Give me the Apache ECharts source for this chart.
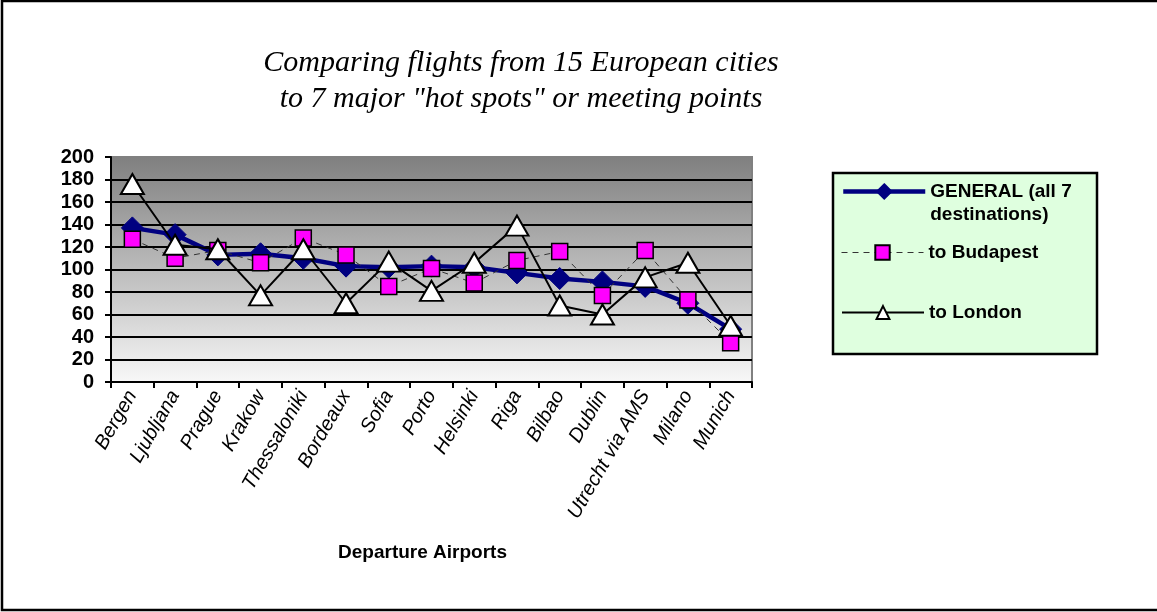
<!DOCTYPE html>
<html>
<head>
<meta charset="utf-8">
<script src="https://cdn.jsdelivr.net/npm/echarts@6/dist/echarts.min.js"></script>
<style>html,body{margin:0;padding:0;background:#fff;}#c{width:1157px;height:612px;}</style>
</head>
<body>
<div id="c"></div>
<script>
var categories = ['Bergen','Ljubljana','Prague','Krakow','Thessaloniki','Bordeaux','Sofia','Porto','Helsinki','Riga','Bilbao','Dublin','Utrecht via AMS','Milano','Munich'];
var generalValues = [137,131,113,114,110,103,102,103,102,97,92,89,85,70,47];
var budapestValues = [127,110,117,106,128,113,85,101,88,108,116,77,117,73,35];
var londonValues = [176,122,118,77,118,70,107,81,106,139,68,60,93,106,50];
var yTicks = {min: 0, max: 200, interval: 20};
var titleLines = ['Comparing flights from 15 European cities', 'to 7 major "hot spots" or meeting points'];
var seriesNames = ['GENERAL (all 7 destinations)', 'to Budapest', 'to London'];

var chart = echarts.init(document.getElementById('c'), null, {renderer: 'canvas'});
var legendText = {fontFamily: 'Arial, Liberation Sans', fontWeight: 'bold', fontSize: 19, color: '#000', lineHeight: 23};
var splitColors = [];
for (var i = 0; i < 11; i++) splitColors.push(i === 10 ? '#808080' : '#000000');

chart.setOption({
  animation: false,
  title: {
    text: titleLines.join('\n'),
    left: 516, top: 40, textAlign: 'center',
    textStyle: {fontFamily: 'Liberation Serif, Times New Roman', fontStyle: 'italic', fontWeight: 'normal', fontSize: 30, lineHeight: 36, color: '#000'}
  },
  graphic: [
    {type: 'rect', shape: {x: 2, y: 1, width: 1170, height: 609}, style: {fill: 'none', stroke: '#000', lineWidth: 2.5}, z: -10, silent: true},
    {type: 'rect', shape: {x: 833, y: 173, width: 264, height: 181}, style: {fill: '#dfffdf', stroke: '#000', lineWidth: 2.5}, z: 0, silent: true}
  ],
  legend: [
    {data: [seriesNames[0]], orient: 'vertical', left: 841, top: 157, padding: 0, itemWidth: 82, itemHeight: 18, itemGap: 0,
     lineStyle: {width: 4.5},
     formatter: function () { return '\nGENERAL (all 7\ndestinations)'; }, textStyle: legendText, selectedMode: false, z: 5},
    {data: [seriesNames[1]], orient: 'vertical', left: 841, top: 241, padding: 0, itemWidth: 82, itemHeight: 18,
     lineStyle: {width: 1}, textStyle: legendText, selectedMode: false, z: 5},
    {data: [seriesNames[2]], orient: 'vertical', left: 841, top: 301, padding: 0, itemWidth: 82, itemHeight: 16,
     lineStyle: {width: 2}, textStyle: legendText, selectedMode: false, z: 5}
  ],
  grid: {
    left: 111, top: 157, right: 405, bottom: 230,
    show: true, borderColor: '#808080', borderWidth: 2,
    backgroundColor: new echarts.graphic.LinearGradient(0, 0, 0, 1, [{offset: 0, color: '#7f7f7f'}, {offset: 1, color: '#f8f8f8'}])
  },
  xAxis: {
    type: 'category', data: categories, boundaryGap: true,
    name: 'Departure Airports', nameLocation: 'middle', nameGap: 161,
    nameTextStyle: {fontFamily: 'Arial, Liberation Sans', fontWeight: 'bold', fontSize: 19, color: '#000', padding: [0, 18, 0, 0]},
    axisLine: {lineStyle: {color: '#000', width: 2}},
    axisTick: {show: true, length: 6, lineStyle: {color: '#000', width: 2}},
    axisLabel: {interval: 0, rotate: 60, margin: 10, fontFamily: 'Arial, Liberation Sans', fontStyle: 'italic', fontSize: 20, color: '#000'},
    splitLine: {show: false}
  },
  yAxis: {
    type: 'value', min: yTicks.min, max: yTicks.max, interval: yTicks.interval,
    axisLine: {show: true, lineStyle: {color: '#000', width: 2}},
    axisTick: {show: true, length: 6, lineStyle: {color: '#000', width: 2}},
    axisLabel: {margin: 17, fontFamily: 'Arial, Liberation Sans', fontWeight: 'bold', fontSize: 20, color: '#000'},
    splitLine: {show: true, lineStyle: {color: splitColors, width: 2}}
  },
  series: [
    {name: seriesNames[0], type: 'line', data: generalValues, symbol: 'diamond', symbolSize: 22,
     lineStyle: {color: '#000080', width: 4.5}, itemStyle: {color: '#000080', borderColor: '#000080', borderWidth: 1}, z: 2},
    {name: seriesNames[1], type: 'line', data: budapestValues, symbol: 'rect', symbolSize: 16,
     lineStyle: {color: '#333333', width: 1, type: [6, 5]}, itemStyle: {color: '#ff00ff', borderColor: '#000', borderWidth: 1.5}, z: 3},
    {name: seriesNames[2], type: 'line', data: londonValues, symbol: 'triangle', symbolSize: [23, 20],
     lineStyle: {color: '#000', width: 2}, itemStyle: {color: '#ffffff', borderColor: '#000', borderWidth: 2}, z: 4}
  ]
});
</script>
</body>
</html>
